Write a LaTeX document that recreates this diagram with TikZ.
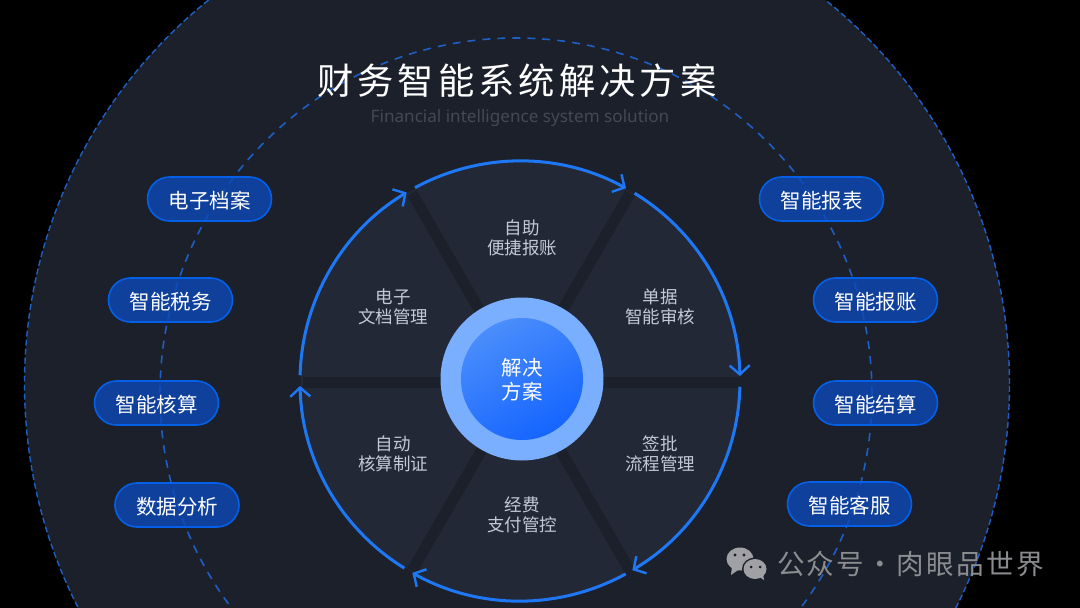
\documentclass[tikz,border=0pt]{standalone}
\usepackage{fontspec}
\setmainfont{Noto Sans CJK SC}
\newfontfamily\titlefont[LetterSpace=11.1]{Noto Sans CJK SC}
\newfontfamily\markfont[LetterSpace=8]{Noto Sans CJK SC}
\newfontfamily\latinfont{Noto Sans}
\usetikzlibrary{arrows.meta}
\definecolor{pagebg}{HTML}{1B202B}
\definecolor{wedgebg}{HTML}{232836}
\definecolor{ringblue}{HTML}{1E78F5}
\definecolor{dashblue}{HTML}{1F5FC4}
\definecolor{pillfill}{HTML}{0C49B9}
\definecolor{pillline}{HTML}{0560E8}
\definecolor{corering}{HTML}{7AAEFF}
\definecolor{corelight}{HTML}{4A8DFB}
\definecolor{coredeep}{HTML}{1565FF}
\definecolor{wedgetext}{HTML}{C3C9D6}
\definecolor{subtext}{HTML}{444956}
\definecolor{marktext}{HTML}{8B8C90}
\definecolor{markicon}{HTML}{A0A0A5}
\tikzset{
  pill/.style={draw=pillline, line width=1.6pt, fill=pillfill, fill opacity=0.8, text opacity=1, rounded corners=22pt, minimum width=124pt, minimum height=44pt, text=white, inner sep=0pt, text height=18pt, text depth=0pt, font=\fontsize{20.5}{24}\selectfont},
  wedgelabel/.style={align=center, text=wedgetext, inner sep=0pt, font=\fontsize{17.5}{20}\selectfont},
  ringarc/.style={draw=ringblue, line width=3pt, -{Straight Barb[length=9pt,width=20pt,line width=2.4pt]}},
  gapline/.style={draw=pagebg, line width=11pt},
}
\begin{document}
\begin{tikzpicture}[x=1pt,y=1pt]
\useasboundingbox (0,-608) rectangle (1080,0);
\clip (0,-608) rectangle (1080,0);
\fill[black] (0,-608) rectangle (1080,0);
\coordinate (hub) at (520,-381);
\coordinate (gaphub) at (521,-382);
\coordinate (far) at (517,-384);
\coordinate (mid) at (516,-394);
\fill[pagebg] (far) circle[radius=492.5];
\draw[dashblue, line width=1.4pt, dash pattern=on 6pt off 3pt] (far) circle[radius=492.5];
\draw[dashblue, line width=1.6pt, dash pattern=on 8pt off 7pt] (mid) circle[radius=356];
\fill[wedgebg] (hub) circle[radius=219];
\coordinate (g1) at ([shift={(0:218)}]gaphub);
\coordinate (g2) at ([shift={(60:218)}]gaphub);
\coordinate (g3) at ([shift={(120:218)}]gaphub);
\coordinate (g4) at ([shift={(180:218)}]gaphub);
\coordinate (g5) at ([shift={(240:218)}]gaphub);
\coordinate (g6) at ([shift={(300:218)}]gaphub);
\draw[gapline] (g1) -- (g4);
\draw[gapline] (g2) -- (g5);
\draw[gapline] (g3) -- (g6);
\coordinate (a1) at ([shift={(118.5:220)}]hub);
\coordinate (a2) at ([shift={(58.6:220)}]hub);
\coordinate (a3) at ([shift={(-1.5:220)}]hub);
\coordinate (a4) at ([shift={(-61.3:220)}]hub);
\coordinate (a5) at ([shift={(-121.7:220)}]hub);
\coordinate (a6) at ([shift={(178.5:220)}]hub);
\draw[ringarc] (a1) arc[start angle=118.5, end angle=61.2, radius=220];
\draw[ringarc] (a2) arc[start angle=58.6, end angle=1.3, radius=220];
\draw[ringarc] (a3) arc[start angle=-1.5, end angle=-59.3, radius=220];
\draw[ringarc] (a4) arc[start angle=-61.3, end angle=-119.3, radius=220];
\draw[ringarc] (a5) arc[start angle=-121.7, end angle=-178.7, radius=220];
\draw[ringarc] (a6) arc[start angle=178.5, end angle=121, radius=220];
\node[circle, fill=corering, minimum size=163pt, inner sep=0pt] (corebase) at (522,-379) {};
\node[circle, top color=corelight, bottom color=coredeep, shading angle=30, minimum size=122pt, inner sep=0pt] (core) at (522,-379) {};
\node[align=center, text=white, inner sep=0pt, font=\fontsize{20.5}{24}\selectfont] (corelabel) at (522,-380) {解决\\方案};
\node[text=white, inner sep=0pt, font=\titlefont\fontsize{36.3}{40}\selectfont] (title) at (517,-81) {财务智能系统解决方案};
\node[text=subtext, inner sep=0pt, font=\latinfont\fontsize{17.1}{20}\selectfont] (subtitle) at (520,-118) {Financial intelligence system solution};
\node[wedgelabel] (w1) at (522,-238) {自助\\便捷报账};
\node[wedgelabel] (w2) at (660,-307) {单据\\智能审核};
\node[wedgelabel] (w3) at (660,-454) {签批\\流程管理};
\node[wedgelabel] (w4) at (522,-514.5) {经费\\支付管控};
\node[wedgelabel] (w5) at (393,-454) {自动\\核算制证};
\node[wedgelabel] (w6) at (393,-307) {电子\\文档管理};
\node[pill] (p1) at (209.5,-199) {电子档案};
\node[pill] (p2) at (170.5,-300) {智能税务};
\node[pill] (p3) at (156.5,-403) {智能核算};
\node[pill] (p4) at (177,-505) {数据分析};
\node[pill] (p5) at (821.5,-199) {智能报表};
\node[pill] (p6) at (875.5,-300) {智能报账};
\node[pill] (p7) at (875.5,-403) {智能结算};
\node[pill] (p8) at (849.5,-504) {智能客服};
\node[text=marktext, inner sep=0pt, font=\markfont\fontsize{27.6}{30}\selectfont] (mark) at (910.5,-564) {公众号\hspace{2.5pt}·\hspace{2.5pt}肉眼品世界};
\fill[markicon] (740,-559) ellipse[x radius=13.5, y radius=11.5];
\fill[markicon] (732,-566) -- (731,-575) -- (741,-568) -- cycle;
\fill[pagebg] (755,-569) ellipse[x radius=13, y radius=11.5];
\fill[markicon] (755,-569) ellipse[x radius=11.5, y radius=10];
\fill[markicon] (758,-576) -- (764,-580) -- (763,-574) -- cycle;
\fill[pagebg] (735,-555) circle[radius=1.7];
\fill[pagebg] (744,-555) circle[radius=1.7];
\fill[pagebg] (751,-567) circle[radius=1.5];
\fill[pagebg] (760,-567) circle[radius=1.5];
\end{tikzpicture}
\end{document}
